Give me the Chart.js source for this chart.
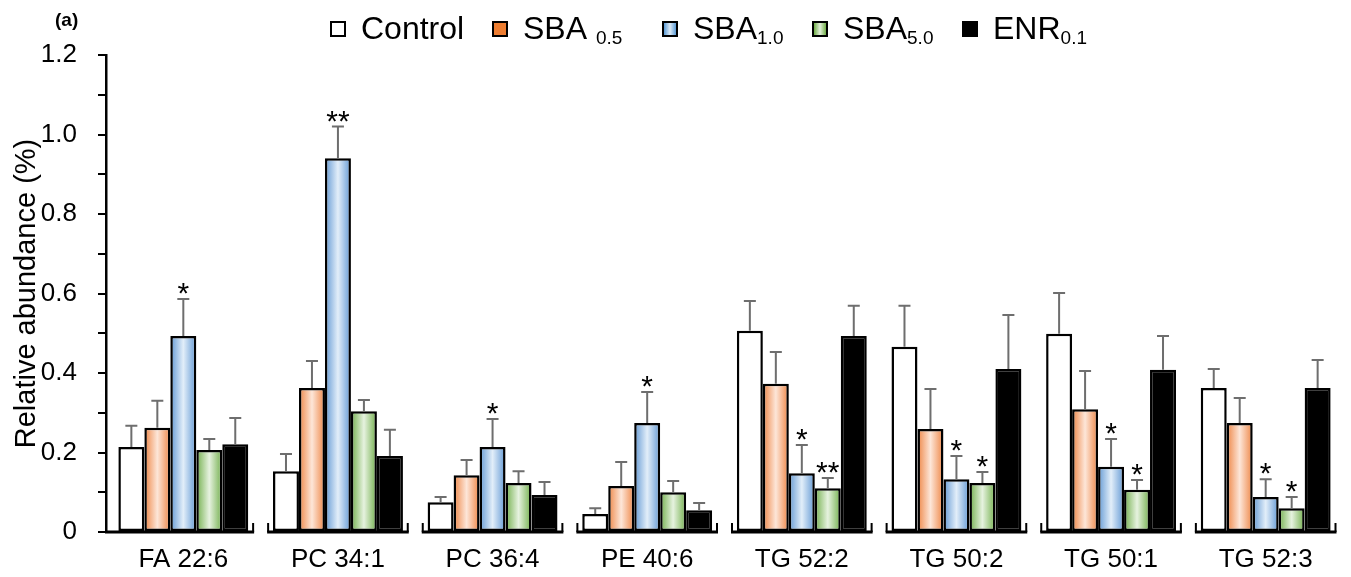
<!DOCTYPE html>
<html>
<head>
<meta charset="utf-8">
<script src="https://cdn.jsdelivr.net/npm/chart.js@4.4.1/dist/chart.umd.min.js"></script>
<style>
  body { margin: 0; background: #fff; font-family: 'Liberation Sans', Arial, sans-serif; }
  #wrap { position: relative; width: 1351px; height: 577px; }
  #myChart { position: absolute; left: 0; top: 0; }
  #panel { position: absolute; left: 55px; top: 9px; font-size: 19px; font-weight: bold; }
  #legenda { position: absolute; left: 0; top: 10px; width: 1351px; height: 50px; font-size: 32px; color: #000; }
  .item { position: absolute; top: 0; display: flex; align-items: center; white-space: nowrap; }
  .caixa { width: 12px; height: 12px; border: 2px solid #000; margin-right: 15px; }
  .item sub { font-size: 19px; position: relative; top: 9px; vertical-align: baseline; }
</style>
</head>
<body>
<div id="wrap">
  <canvas id="myChart" width="1351" height="577"></canvas>
  <div id="panel">(a)</div>
  <div id="legenda">
    <div class="item" style="left:330px"><div class="caixa" style="background:#fff"></div>Control</div>
    <div class="item" style="left:492px"><div class="caixa" style="background:#ED7D31"></div>SBA&nbsp;<sub>0.5</sub></div>
    <div class="item" style="left:662px"><div class="caixa" style="background:linear-gradient(90deg,#5B9BD5,#DDEBF7 50%,#5B9BD5)"></div>SBA<sub>1.0</sub></div>
    <div class="item" style="left:812px"><div class="caixa" style="background:linear-gradient(90deg,#70AD47,#E2EFDA 50%,#70AD47)"></div>SBA<sub>5.0</sub></div>
    <div class="item" style="left:962px"><div class="caixa" style="background:#000"></div>ENR<sub>0.1</sub></div>
  </div>
</div>
<script>
// dados
var categorias = ['FA 22:6', 'PC 34:1', 'PC 36:4', 'PE 40:6', 'TG 52:2', 'TG 50:2', 'TG 50:1', 'TG 52:3'];
var nomesSeries = ['Control', 'SBA 0.5', 'SBA1.0', 'SBA5.0', 'ENR0.1'];

var control = [0.214, 0.153, 0.075, 0.045, 0.506, 0.466, 0.499, 0.362];
var sba05 = [0.262, 0.362, 0.143, 0.116, 0.373, 0.259, 0.309, 0.274];
var sba10 = [0.493, 0.940, 0.214, 0.274, 0.148, 0.133, 0.164, 0.088];
var sba50 = [0.206, 0.304, 0.123, 0.100, 0.110, 0.123, 0.106, 0.060];
var enr01 = [0.221, 0.191, 0.093, 0.055, 0.493, 0.410, 0.408, 0.362];

// desvio (só a parte de cima)
var controlErr = [0.053, 0.043, 0.013, 0.015, 0.075, 0.103, 0.102, 0.048];
var sba05Err = [0.068, 0.068, 0.038, 0.060, 0.080, 0.101, 0.096, 0.063];
var sba10Err = [0.093, 0.080, 0.070, 0.078, 0.071, 0.058, 0.070, 0.045];
var sba50Err = [0.028, 0.028, 0.030, 0.028, 0.026, 0.028, 0.025, 0.028];
var enr01Err = [0.066, 0.066, 0.033, 0.018, 0.076, 0.136, 0.085, 0.071];

// marcas de significância
var controlSig = ['', '', '', '', '', '', '', ''];
var sba05Sig = ['', '', '', '', '', '', '', ''];
var sba10Sig = ['*', '**', '*', '*', '*', '*', '*', '*'];
var sba50Sig = ['', '', '', '', '**', '*', '*', '*'];
var enr01Sig = ['', '', '', '', '', '', '', ''];

var rotulosY = ['0', '0.2', '0.4', '0.6', '0.8', '1.0', '1.2'];

var erros = [controlErr, sba05Err, sba10Err, sba50Err, enr01Err];
var sinais = [controlSig, sba05Sig, sba10Sig, sba50Sig, enr01Sig];

var PCT_CATEGORIA = 0.84;
var FONTE = '"Liberation Sans", Arial, sans-serif';

// preenchimento em degradê horizontal (bordas escuras, centro claro)
function degrade(borda, meio) {
  return function (ctx) {
    if (ctx.type !== 'data') return borda;
    var chart = ctx.chart;
    var x = chart.scales.x;
    if (!x || !chart.chartArea) return borda;
    var slot = x.width / categorias.length;
    var w = slot * PCT_CATEGORIA / 5;
    var cx = x.getPixelForValue(ctx.dataIndex) + (ctx.datasetIndex - 2) * w;
    if (!isFinite(cx) || !isFinite(w) || w <= 0) return borda;
    var g = chart.ctx.createLinearGradient(cx - w / 2, 0, cx + w / 2, 0);
    g.addColorStop(0, borda);
    g.addColorStop(0.5, meio);
    g.addColorStop(1, borda);
    return g;
  };
}

// barras de erro, asteriscos e eixo x em segmentos
var extras = {
  id: 'extras',
  afterDatasetsDraw: function (chart) {
    var c = chart.ctx;
    var x = chart.scales.x;
    var y = chart.scales.y;
    var area = chart.chartArea;
    c.save();

    chart.data.datasets.forEach(function (ds, di) {
      var meta = chart.getDatasetMeta(di);
      meta.data.forEach(function (bar, i) {
        var topo = y.getPixelForValue(ds.data[i] + erros[di][i]);
        c.strokeStyle = '#6e6e6e';
        c.lineWidth = 2;
        c.beginPath();
        c.moveTo(bar.x, bar.y);
        c.lineTo(bar.x, topo);
        c.moveTo(bar.x - 6, topo);
        c.lineTo(bar.x + 6, topo);
        c.stroke();

        var s = sinais[di][i];
        if (s) {
          c.fillStyle = '#000';
          c.font = '30px ' + FONTE;
          c.textAlign = 'center';
          c.textBaseline = 'alphabetic';
          c.fillText(s, bar.x, topo + 4);
        }
      });
    });

    // eixo x: um segmento por categoria com tracinhos nas pontas
    var slot = x.width / categorias.length;
    var base = area.bottom;
    c.strokeStyle = '#000';
    for (var i = 0; i < categorias.length; i++) {
      var meio = x.getPixelForValue(i);
      var esq = i === 0 ? area.left - 1 : meio - slot / 2 + 6.5;
      var dir = meio + slot / 2 - 6.5;
      c.lineWidth = 3;
      c.beginPath();
      c.moveTo(esq, base);
      c.lineTo(dir, base);
      c.stroke();
      c.lineWidth = 2;
      c.beginPath();
      if (i > 0) {
        c.moveTo(esq + 1, base);
        c.lineTo(esq + 1, base - 9);
      }
      c.moveTo(dir - 1, base);
      c.lineTo(dir - 1, base - 9);
      c.stroke();
    }
    c.restore();
  }
};

var config = {
  type: 'bar',
  data: {
    labels: categorias,
    datasets: [
      { label: nomesSeries[0], data: control, backgroundColor: '#ffffff' },
      { label: nomesSeries[1], data: sba05, backgroundColor: degrade('#EE8646', '#FDE6D8') },
      { label: nomesSeries[2], data: sba10, backgroundColor: degrade('#6399D4', '#E2EEF9') },
      { label: nomesSeries[3], data: sba50, backgroundColor: degrade('#72AF4C', '#E6F2DF') },
      { label: nomesSeries[4], data: enr01, backgroundColor: '#000000' }
    ]
  },
  options: {
    responsive: false,
    animation: false,
    events: [],
    datasets: {
      bar: {
        borderColor: '#000',
        borderWidth: 2.5,
        borderSkipped: false,
        categoryPercentage: PCT_CATEGORIA,
        barPercentage: 1
      }
    },
    layout: { padding: { top: 55, right: 8, left: 0, bottom: 0 } },
    plugins: {
      legend: { display: false },
      tooltip: { enabled: false }
    },
    scales: {
      x: {
        grid: { display: false },
        border: { display: false },
        ticks: {
          color: '#000',
          font: { size: 26, family: FONTE },
          padding: 4,
          maxRotation: 0,
          autoSkip: false
        },
        afterFit: function (scale) { scale.height = 45; }
      },
      y: {
        min: 0,
        max: 1.2,
        ticks: {
          stepSize: 0.1,
          color: '#000',
          font: { size: 26, family: FONTE },
          padding: 21,
          callback: function (v, idx) { return idx % 2 === 0 ? rotulosY[idx / 2] : ''; }
        },
        grid: { drawOnChartArea: false, color: '#000', lineWidth: 2, tickLength: 8 },
        border: { display: true, color: '#000', width: 2.5 },
        title: {
          display: true,
          text: 'Relative abundance (%)',
          color: '#000',
          font: { size: 29, family: FONTE },
          padding: { top: 10, bottom: 0 }
        },
        afterFit: function (scale) { scale.width = 106; }
      }
    }
  },
  plugins: [extras]
};

var myChart = new Chart(document.getElementById('myChart').getContext('2d'), config);
</script>
</body>
</html>
